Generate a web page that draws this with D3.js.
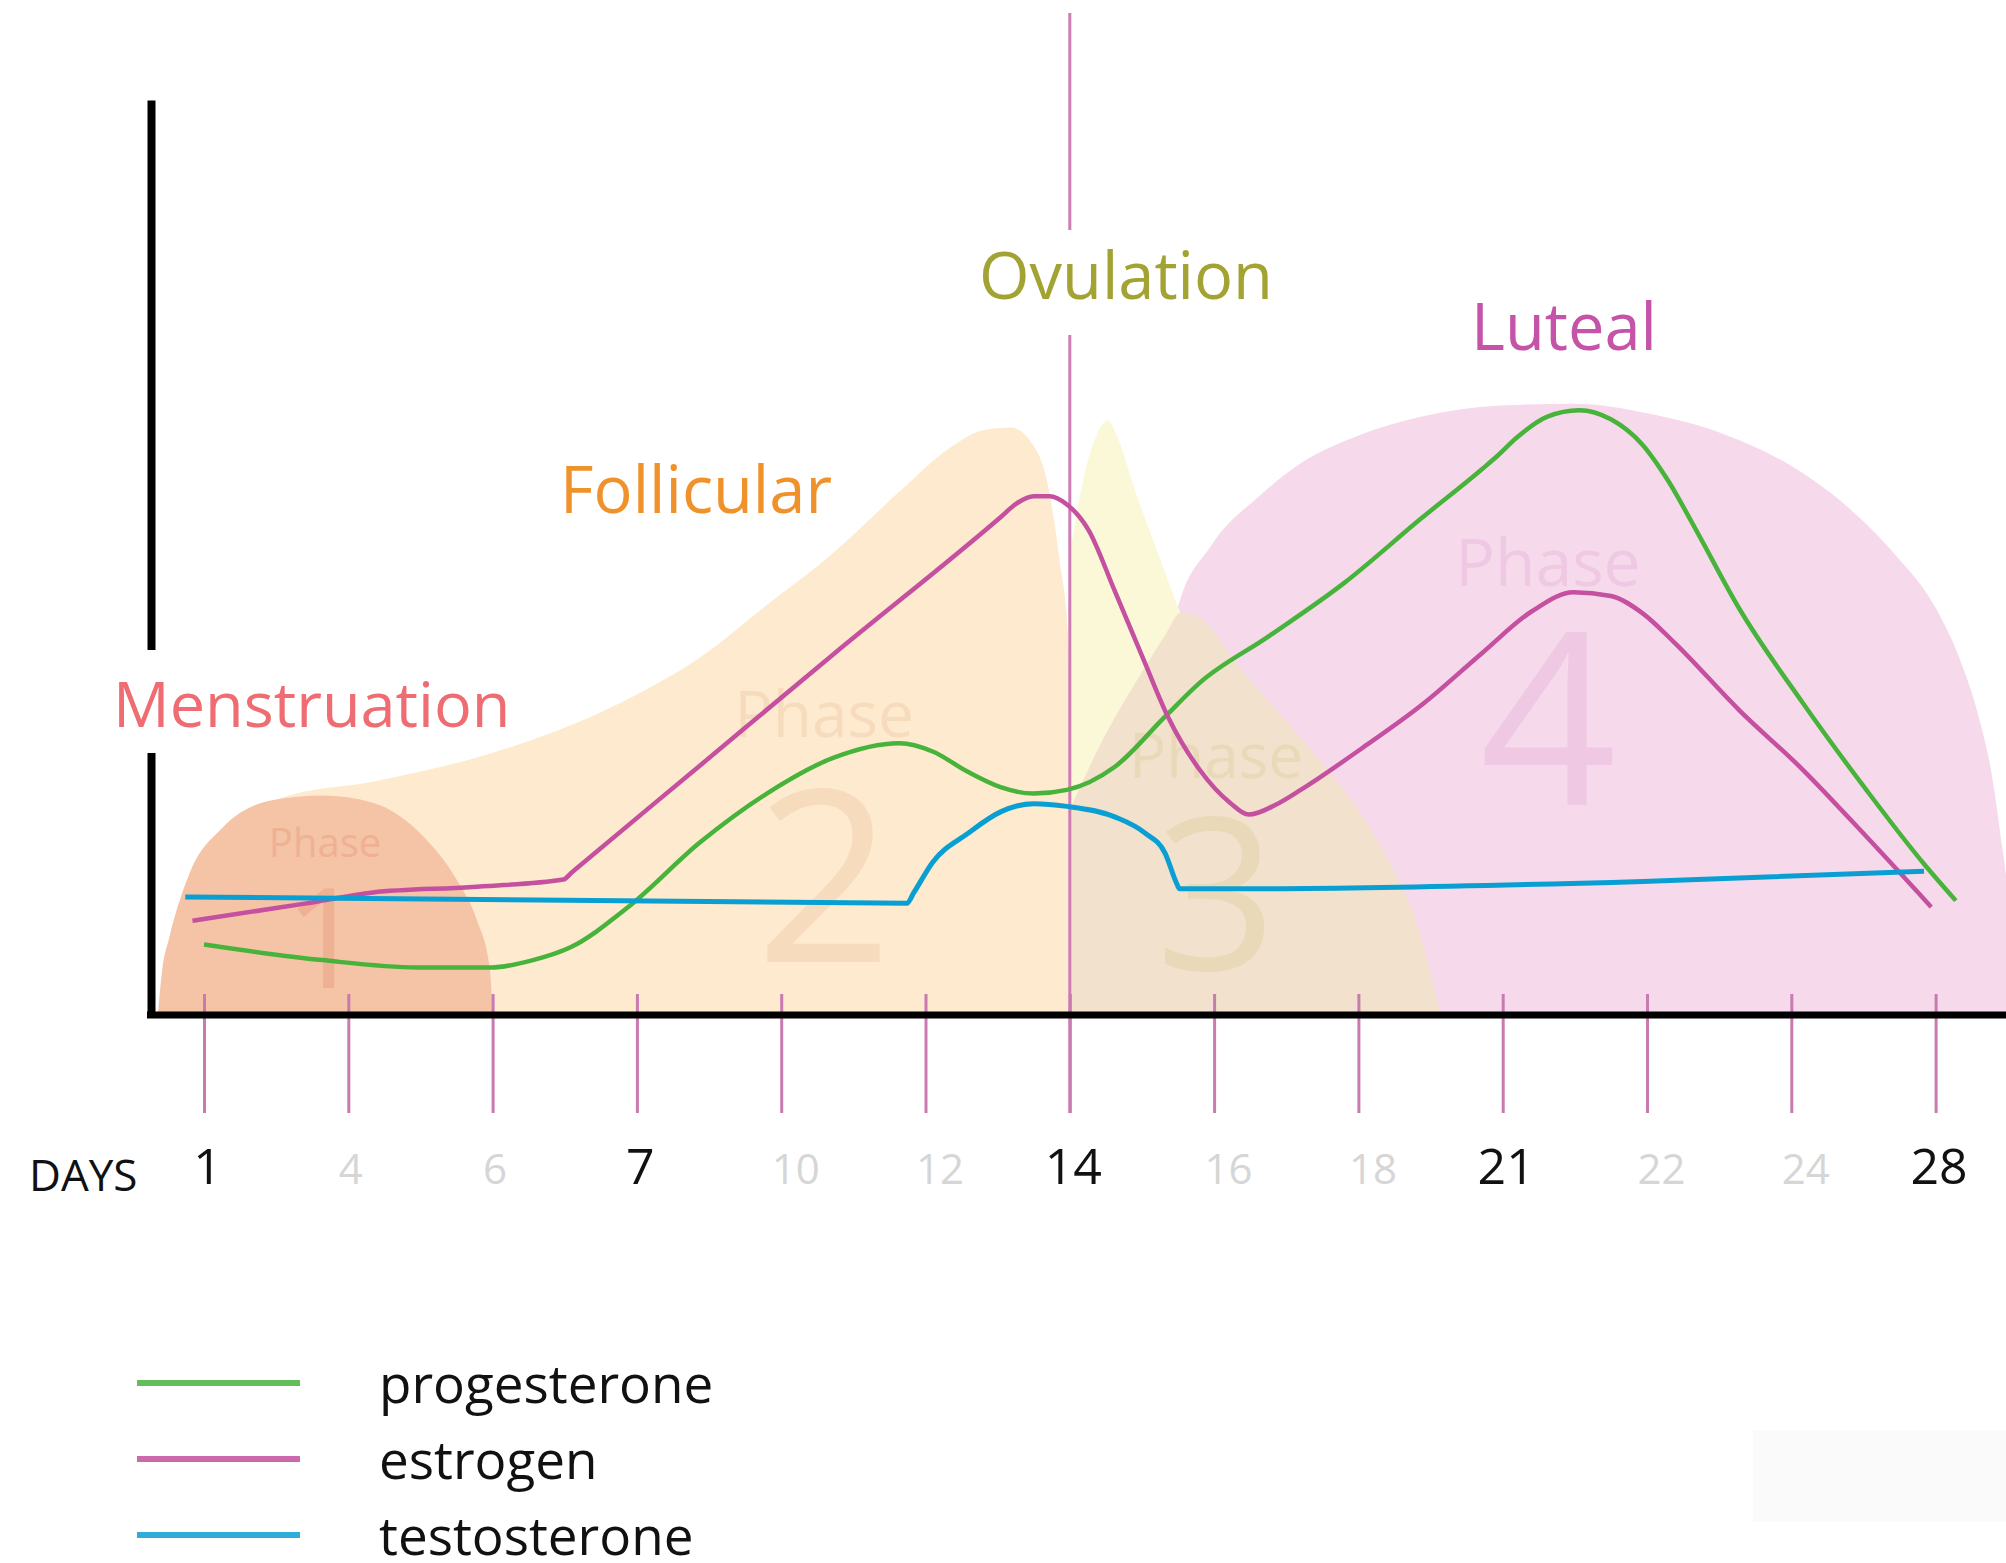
<!DOCTYPE html>
<html><head><meta charset="utf-8">
<script src="https://cdn.jsdelivr.net/npm/d3@7"></script>
<style>html,body{margin:0;padding:0;background:#fff;}svg{display:block;font-family:"Open Sans",sans-serif;}</style>
</head><body><svg id="c" width="2006" height="1563"></svg>
<script>
// ---------- DATA (x = tick index 0..12, y = relative hormone level 0..100) ----------
const tickLabels = ["1","4","6","7","10","12","14","16","18","21","22","24","28"];
const majorLabels = ["1","7","14","21","28"];
const seriesNames = ["progesterone","estrogen","testosterone"];
const seriesColors = ["#47b33b","#c4509f","#0a9fd2"];

const progesterone = [[0.00,7.7],[0.82,6.0],[1.48,5.2],[1.99,5.2],[2.28,6.0],[2.54,7.4],[2.94,11.8],[3.44,18.9],[3.90,24.2],[4.36,28.1],[4.82,29.7],[5.05,28.8],[5.29,26.6],[5.52,24.9],[5.75,24.2],[5.98,24.6],[6.31,27.1],[6.66,32.6],[6.90,36.3],[7.37,41.3],[7.90,47.2],[8.43,54.2],[8.86,59.7],[8.97,61.2],[9.09,63.0],[9.31,65.4],[9.53,66.1],[9.75,65.1],[9.97,62.3],[10.15,58.3],[10.33,53.3],[10.64,44.4],[11.08,34.1],[11.52,24.6],[11.92,16.5],[12.14,12.5]];
const estrogen = [[-0.08,10.3],[0.71,12.2],[1.17,13.4],[1.86,14.0],[2.49,14.8],[2.55,15.6],[3.44,27.3],[4.36,39.4],[5.52,54.4],[5.63,55.9],[5.75,56.7],[5.86,56.7],[5.98,55.8],[6.13,53.0],[6.31,46.4],[6.52,38.5],[6.68,32.6],[6.90,26.8],[7.11,23.2],[7.24,21.9],[7.43,23.0],[7.60,24.6],[8.02,29.1],[8.44,33.9],[8.86,39.6],[9.20,44.1],[9.49,46.2],[9.75,45.8],[9.97,43.9],[10.19,40.7],[10.64,33.3],[11.08,26.8],[11.52,19.5],[11.97,11.8]];
const testosterone = [[-0.13,12.9],[4.87,12.2],[4.92,13.4],[5.05,16.7],[5.29,19.8],[5.52,22.2],[5.75,23.1],[5.98,22.8],[6.32,21.6],[6.52,19.9],[6.66,17.7],[6.74,14.4],[6.76,13.8],[6.80,13.8],[7.31,13.8],[9.97,14.6],[11.92,15.7]];

const phaseNames = ["Menstruation","Follicular","Ovulation","Luteal"];
const phaseNumbers = ["1","2","3","4"];
const ovulationTick = 6;

// phase background outlines (upper edge, area down to 0)
const phase1Shape = [[-0.32,0],[-0.29,4.9],[-0.24,8.5],[-0.10,15.5],[0.13,20.5],[0.48,23.5],[0.82,24.0],[1.17,23.2],[1.52,19.5],[1.75,14.8],[1.89,10.4],[1.98,5.2],[2.00,0]];
const phase2Shape = [[0.13,20.5],[0.55,23.8],[1.17,25.5],[1.50,26.6],[1.86,28.0],[2.13,29.3],[3.02,35.2],[3.44,39.1],[3.90,44.8],[4.36,50.5],[4.82,57.2],[5.17,62.0],[5.40,63.9],[5.59,64.2],[5.74,62.4],[5.84,58.5],[5.93,49.6],[5.99,41.0],[6.00,34.4]];
const phase3Spike = [[6.00,50.3],[6.10,59.0],[6.19,63.5],[6.26,65.0],[6.34,62.8],[6.45,57.4],[6.59,51.4],[6.73,45.4],[6.90,38.8],[7.11,27.9],[7.25,12.6],[7.32,0]];
const phase3Shape = [[6.00,22.4],[6.21,29.5],[6.49,37.2],[6.66,41.5],[6.77,44.0],[6.90,43.4],[7.19,37.7],[7.69,28.6],[8.11,19.6],[8.44,8.2],[8.57,0]];
const phase4Shape = [[6.72,0],[6.74,44.0],[6.98,51.3],[7.32,56.8],[7.60,60.3],[8.01,63.4],[8.44,65.4],[8.98,66.6],[9.49,66.8],[10.02,65.7],[10.53,63.5],[10.99,60.1],[11.37,55.8],[11.72,50.3],[12.00,44.5],[12.17,38.8],[12.29,33.1],[12.39,26.2],[12.45,19.6],[12.50,12.6],[12.53,0]];

// ---------- LAYOUT ----------
const svg = d3.select("#c");
const x = d3.scaleLinear().domain([0,12]).range([204,1935.6]);
const y = d3.scaleLinear().domain([0,100]).range([1015,100]);

const area = d3.area().x(d=>x(d[0])).y0(y(0)).y1(d=>y(d[1])).curve(d3.curveMonotoneX);
const line = d3.line().x(d=>x(d[0])).y(d=>y(d[1])).curve(d3.curveMonotoneX);

const bg = svg.append("g");
bg.append("path").datum(phase4Shape).attr("d",area).attr("fill","#f6daec");
bg.append("path").datum(phase2Shape).attr("d",area).attr("fill","#fdeacf");
bg.append("path").datum(phase3Spike).attr("d",area).attr("fill","#fbf8d8");
bg.append("path").datum(phase3Shape).attr("d",area).attr("fill","#f2e2cd");
bg.append("path").datum(phase1Shape).attr("d",area).attr("fill","#f5c3a5");

// phase watermark texts
const phaseText = [
  {w:"Phase", n:phaseNumbers[0], cx:325, pb:857, pf:40, nb:988, nf:140, c:"#eeb193"},
  {w:"Phase", n:phaseNumbers[1], cx:824, pb:737, pf:64, nb:962, nf:240, c:"#f6dcbc"},
  {w:"Phase", n:phaseNumbers[2], cx:1216, pb:778, pf:62, nb:970, nf:212, c:"#e9d9b8"},
  {w:"Phase", n:phaseNumbers[3], cx:1548, pb:586, pf:66, nb:805, nf:240, c:"#efc9e3"}
];
phaseText.forEach(p=>{
  bg.append("text").attr("x",p.cx).attr("y",p.pb).attr("text-anchor","middle")
    .attr("font-size",p.pf).attr("fill",p.c).text(p.w);
  bg.append("text").attr("x",p.cx).attr("y",p.nb).attr("text-anchor","middle")
    .attr("font-size",p.nf).attr("fill",p.c).text(p.n);
});

// ovulation line
svg.append("line").attr("x1",x(ovulationTick)).attr("x2",x(ovulationTick))
  .attr("y1",13).attr("y2",1113).attr("stroke","#d07cb4").attr("stroke-width",3);

// bottom axis
const xAxis = d3.axisBottom(x).tickValues(d3.range(tickLabels.length))
  .tickFormat(i=>tickLabels[i]).tickSizeOuter(0);
const gx = svg.append("g").attr("transform",`translate(0,${y(0)})`).call(xAxis);
gx.select(".domain").remove();
gx.selectAll(".tick line").attr("y1",-21).attr("y2",98).attr("stroke","#c97aae").attr("stroke-width",3);
gx.selectAll(".tick text").attr("y",169).attr("dy",null)
  .attr("font-family","'Open Sans',sans-serif")
  .each(function(i){
    const major = majorLabels.includes(tickLabels[i]);
    d3.select(this).attr("font-size",major?50:42).attr("fill",major?"#111":"#d6d6d6")
      .attr("text-anchor",major?"middle":"start").attr("dx",major?3:-10);
  });
svg.append("line").attr("x1",147).attr("x2",2006).attr("y1",y(0)).attr("y2",y(0))
  .attr("stroke","#000").attr("stroke-width",7);

// left axis
const yAxis = d3.axisLeft(y).tickValues([]).tickSizeOuter(0);
const gy = svg.append("g").attr("transform","translate(151,0)").call(yAxis);
gy.select(".domain").attr("stroke","#000").attr("stroke-width",8);

svg.append("text").attr("x",29).attr("y",1191).attr("font-size",44).attr("fill","#111").text("DAYS");

// series
const series = [progesterone, estrogen, testosterone];
const widths = [4.5,4.5,5];
series.forEach((s,i)=>{
  svg.append("path").datum(s).attr("d",line).attr("fill","none")
    .attr("stroke",seriesColors[i]).attr("stroke-width",widths[i]).attr("stroke-linejoin","round");
});

// phase name labels (white boxes interrupt the axis / ovulation line)
const labels = [
  {t:phaseNames[0], x:113, y:727, fs:63, c:"#ef6c72", box:[120,650,70,103]},
  {t:phaseNames[1], x:560, y:513, fs:65, c:"#f0922c", box:null},
  {t:phaseNames[2], x:979, y:299, fs:65, c:"#a3a334", box:[960,230,330,105]},
  {t:phaseNames[3], x:1471, y:350, fs:65, c:"#c553a8", box:null}
];
labels.forEach(l=>{
  if(l.box) svg.append("rect").attr("x",l.box[0]).attr("y",l.box[1]).attr("width",l.box[2]).attr("height",l.box[3]).attr("fill","#fff");
  svg.append("text").attr("x",l.x).attr("y",l.y).attr("font-size",l.fs).attr("fill",l.c).text(l.t);
});

// legend
const legY = [1383,1459,1535];
seriesNames.forEach((n,i)=>{
  svg.append("line").attr("x1",137).attr("x2",300).attr("y1",legY[i]).attr("y2",legY[i])
    .attr("stroke",seriesColors[i]).attr("stroke-width",6).attr("opacity",0.85);
  svg.append("text").attr("x",379).attr("y",legY[i]+20).attr("font-size",53).attr("fill","#111").text(n);
});

// faint blob bottom-right
svg.append("rect").attr("x",1753).attr("y",1430).attr("width",253).attr("height",92).attr("fill","#fafafa");
</script></body></html>
